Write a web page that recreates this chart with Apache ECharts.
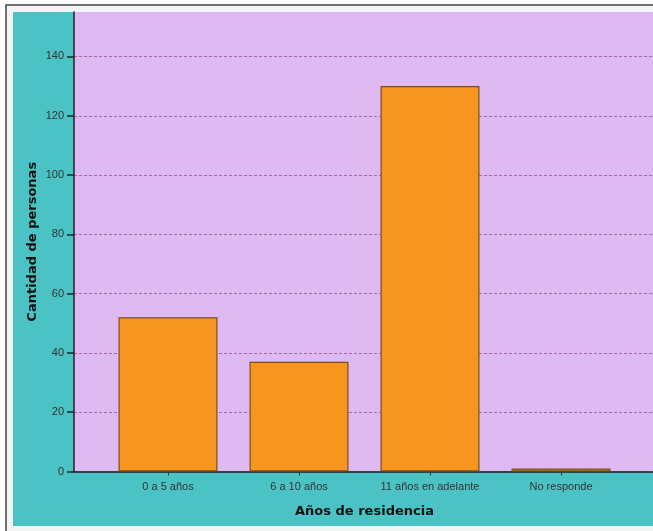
<!DOCTYPE html>
<html>
<head>
<meta charset="utf-8">
<script src="https://cdn.jsdelivr.net/npm/echarts@6/dist/echarts.min.js"></script>
<style>
  html, body { margin: 0; padding: 0; background: #ffffff; }
  #chart { width: 653px; height: 531px; }
</style>
</head>
<body>
<div id="chart"></div>
<script>
// Años de residencia vs. cantidad de personas
const categories = ['0 a 5 años', '6 a 10 años', '11 años en adelante', 'No responde'];
const personas = [52, 37, 130, 1];
const yMin = 0;
const yMax = 155;
const yStep = 20;

const chart = echarts.init(document.getElementById('chart'), null, { renderer: 'canvas' });

const labelFont = { fontFamily: 'Liberation Sans', fontSize: 11, color: '#333333' };
const titleFont = { fontFamily: 'DejaVu Sans', fontSize: 13, fontWeight: 'bold', color: '#111111' };

chart.setOption({
  animation: false,
  backgroundColor: '#ffffff',
  graphic: [
    // outer panel and frame
    { type: 'rect', z: -10, shape: { x: 6, y: 5, width: 660, height: 540 }, style: { fill: '#f4f6f6', stroke: '#444444', lineWidth: 1.5 } },
    { type: 'rect', z: -9, shape: { x: 13, y: 12, width: 645, height: 514 }, style: { fill: '#4bc3c5' } }
  ],
  grid: [
    // bars
    { left: 102.5, right: 26.5, top: 12, bottom: 59.5, containLabel: false },
    // plot background, gridlines and value axis
    { left: 74, right: -2, top: 12, bottom: 59.5, containLabel: false, show: true, backgroundColor: '#dfb9f1', borderWidth: 0, z: 0 }
  ],
  xAxis: [
    {
      gridIndex: 0, type: 'category', data: categories, boundaryGap: true,
      axisLine: { show: false },
      axisTick: { show: true, alignWithLabel: true, length: 4, lineStyle: { color: '#333333' } },
      axisLabel: Object.assign({ margin: 10, interval: 0 }, labelFont),
      name: 'Años de residencia', nameLocation: 'middle', nameGap: 34,
      nameTextStyle: titleFont,
      z: 5
    },
    {
      gridIndex: 1, type: 'value', min: 0, max: 1,
      axisLine: { show: true, onZero: false, lineStyle: { color: '#222222', width: 1.5 } },
      axisTick: { show: false }, axisLabel: { show: false }, splitLine: { show: false },
      z: 4
    }
  ],
  yAxis: [
    {
      gridIndex: 0, type: 'value', min: yMin, max: yMax, interval: yStep, show: false
    },
    {
      gridIndex: 1, type: 'value', min: yMin, max: yMax, interval: yStep,
      axisLine: { show: true, lineStyle: { color: '#222222', width: 1.5 } },
      axisTick: { show: true, length: 7, lineStyle: { color: '#222222', width: 1.5 } },
      axisLabel: Object.assign({ margin: 10, showMaxLabel: false }, labelFont),
      splitLine: { show: true, showMaxLine: false, lineStyle: { color: '#a868ae', width: 1, type: [3, 2] } },
      name: 'Cantidad de personas', nameLocation: 'middle', nameGap: 35, nameRotate: 90,
      nameMoveOverlap: false,
      nameTextStyle: titleFont,
      z: 3
    }
  ],
  series: [
    {
      type: 'bar', xAxisIndex: 0, yAxisIndex: 0, data: personas,
      barWidth: 99,
      itemStyle: { color: '#f7961f', borderColor: '#7a4e1c', borderWidth: 1.2 },
      z: 6
    }
  ]
});
</script>
</body>
</html>
